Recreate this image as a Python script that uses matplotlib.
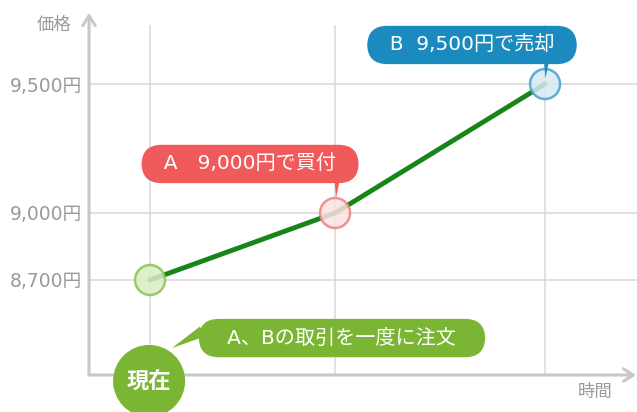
import numpy as np
import matplotlib
matplotlib.use('Agg')
import matplotlib.pyplot as plt
import matplotlib.transforms as mtransforms

plt.rcParams['font.family'] = ['DejaVu Sans', 'Noto Sans CJK JP']

# ---- data ----
times = [1.0, 2.0, 3.135]
prices = [8700, 9000, 9500]
ytick_values = [8700, 9000, 9500]
ytick_labels = ['8,700円', '9,000円', '9,500円']
marker_edge = ['#8cc452', '#f08080', '#4aa0cc']
marker_face = ['#d9edc6', '#fbe3e3', '#d7eaf5']
label_a = '  A　9,000円で買付  '
label_b = '  B  9,500円で売却  '
label_now = '現在'
label_order = '   A、Bの取引を一度に注文   '
y_axis_title = '価格'
x_axis_title = '時間'

RED = '#f05a5a'
BLUE = '#1b8bbf'
GREEN = '#7ab534'
LINE = '#178517'
AXIS = '#c8c8c8'
GRID = '#d9d9d9'
TXT = '#9a9a9a'

W, H = 637, 412
fig = plt.figure(figsize=(W / 100, H / 100), dpi=100)
ax = fig.add_axes([89 / W, (H - 375) / H, (637 - 89) / W, (375 - 25) / H])

# piecewise-linear value scale (schematic chart)
anchor_v = [7700, 8700, 9000, 9500, 10500]
anchor_p = [-223.33, 0, 67, 196, 454]
fwd = lambda v: np.interp(v, anchor_v, anchor_p)
inv = lambda p: np.interp(p, anchor_p, anchor_v)
ax.set_yscale('function', functions=(fwd, inv))
ax.set_ylim(8274.6, 9728.7)
ax.set_xlim(0.670, 3.632)

for s in ax.spines.values():
    s.set_visible(False)
ax.set_xticks(times)
ax.set_xticklabels([])
ax.set_yticks(ytick_values)
ax.set_yticklabels(ytick_labels)
ax.yaxis.set_minor_locator(matplotlib.ticker.NullLocator())
ax.tick_params(length=0, labelsize=13.5, labelcolor=TXT, pad=5)
ax.grid(True, color=GRID, lw=1.1)
ax.set_axisbelow(True)

# axes with arrows
arrow_kw = dict(arrowstyle='->,head_length=0.7,head_width=0.45', color=AXIS, lw=2.2,
                shrinkA=0, shrinkB=0)
ax.annotate('', xy=(0, 1 + 12 / 350), xytext=(0, 0), xycoords='axes fraction',
            arrowprops=arrow_kw, annotation_clip=False)
ax.annotate('', xy=((636 - 89) / 548, 0), xytext=(0, 0), xycoords='axes fraction',
            arrowprops=arrow_kw, annotation_clip=False)

fig.text(54 / W, 1 - 25 / H, y_axis_title, ha='center', va='center', color=TXT, fontsize=12.5)
fig.text(595 / W, 1 - 392 / H, x_axis_title, ha='center', va='center', color=TXT, fontsize=12.5)

# line and markers
ax.plot(times, prices, color=LINE, lw=3.5, solid_capstyle='round', zorder=3)
ax.scatter(times, prices, s=21.6 ** 2, facecolors=marker_face, edgecolors=marker_edge,
           linewidths=1.8, alpha=0.85, zorder=4)

BOX = 'round,pad=0.48,rounding_size=1.0'

# callouts
def callout(text, i, off, tail_from, fc, fs, shrinkB):
    ax.annotate(text, xy=(times[i], prices[i]), xytext=off, textcoords='offset points',
                ha='center', va='center', color='white', fontsize=fs, zorder=7,
                bbox=dict(boxstyle=BOX, fc=fc, ec='none'),
                annotation_clip=False)
    ax.annotate('', xy=(times[i], prices[i]), xytext=tail_from, textcoords='offset points',
                arrowprops=dict(arrowstyle='wedge,tail_width=0.35,shrink_factor=0.5',
                                fc=fc, ec='none', shrinkA=0, shrinkB=shrinkB),
                zorder=6, annotation_clip=False)

callout(label_a, 1, (-61.2, 35.3), (1.5, 23), RED, 14.5, 11)
callout(label_b, 2, (-52.6, 28.1), (1.0, 16), BLUE, 14.5, 4)

# "now" circle and order bubble
ax.annotate(label_order, xy=(times[0], prices[0]), xytext=(138.2, -41.8),
            textcoords='offset points', ha='center', va='center', color='white',
            fontsize=14.5, zorder=7,
            bbox=dict(boxstyle=BOX, fc=GREEN, ec='none'),
            annotation_clip=False)
tail_xy = mtransforms.offset_copy(ax.transData, fig=fig, x=15.8, y=-49, units='points')
ax.annotate('', xy=(times[0], prices[0]), xycoords=tail_xy, xytext=(22, 12),
            textcoords='offset points',
            arrowprops=dict(arrowstyle='wedge,tail_width=0.8,shrink_factor=0.5',
                            fc=GREEN, ec='none', shrinkA=0, shrinkB=0),
            zorder=6, annotation_clip=False)
ax.annotate(label_now, xy=(times[0], prices[0]), xytext=(-0.7, -72.7),
            textcoords='offset points', ha='center', va='center', color='white',
            fontsize=16, fontweight='bold', zorder=8,
            bbox=dict(boxstyle='circle,pad=0.62', fc=GREEN, ec='none'),
            annotation_clip=False)

fig.savefig('out.png', dpi=100)
